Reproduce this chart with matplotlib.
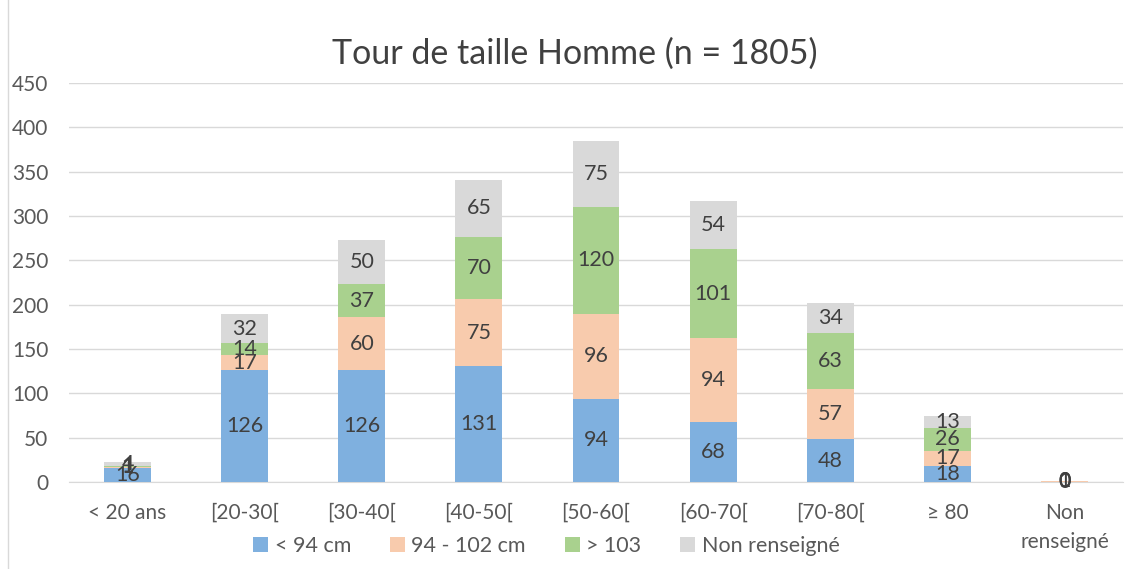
import numpy as np
import matplotlib.pyplot as plt
from matplotlib.patches import Rectangle

plt.rcParams['font.family'] = ['Lato', 'DejaVu Sans']

# Données
categories = ['< 20 ans', '[20-30[', '[30-40[', '[40-50[', '[50-60[', '[60-70[', '[70-80[', '≥ 80', 'Non\nrenseigné']
moins_94 = [16, 126, 126, 131, 94, 68, 48, 18, 0]
entre_94_102 = [1, 17, 60, 75, 96, 94, 57, 17, 1]
plus_103 = [1, 14, 37, 70, 120, 101, 63, 26, 0]
non_renseigne = [4, 32, 50, 65, 75, 54, 34, 13, 0]

series = [
    ('< 94 cm', moins_94, '#7FB0DF'),
    ('94 - 102 cm', entre_94_102, '#F8CBAD'),
    ('> 103', plus_103, '#A9D18E'),
    ('Non renseigné', non_renseigne, '#D9D9D9'),
]

fig = plt.figure(figsize=(11.31, 5.69), dpi=100)
ax = fig.add_axes([0.061, 0.153, 0.932, 0.701])

x = np.arange(len(categories))
bas = np.zeros(len(categories))
for nom, vals, couleur in series:
    vals = np.array(vals, dtype=float)
    ax.bar(x, vals, 0.4, bottom=bas, color=couleur, label=nom, zorder=3)
    for xi, b, v in zip(x, bas, vals):
        ax.text(xi, b + v / 2, str(int(v)), ha='center', va='center',
                fontsize=15.5, color='#404040', zorder=4)
    bas += vals

ax.set_xlim(-0.5, 8.5)
ax.set_ylim(0, 450)
ax.set_yticks(range(0, 451, 50))
ax.yaxis.grid(True, color='#D9D9D9', linewidth=1, zorder=0)
ax.set_xticks(x)
ax.set_xticklabels(categories, linespacing=1.55)
ax.tick_params(axis='both', length=0, labelsize=15, labelcolor='#595959')
ax.tick_params(axis='x', pad=15)
ax.tick_params(axis='y', pad=15)
for s in ['top', 'right', 'left']:
    ax.spines[s].set_visible(False)
ax.spines['bottom'].set_color('#D9D9D9')

fig.text(0.508, 0.905, 'Tour de taille Homme (n = 1805)', ha='center', va='center',
         fontsize=24.5, color='#404040')

fig.legend(loc='center', bbox_to_anchor=(0.483, 0.04), ncol=4, frameon=False,
           fontsize=15.5, handlelength=0.7, handleheight=0.7, columnspacing=1.8,
           handletextpad=0.3, labelcolor='#595959')

fig.patches.append(Rectangle((0.007, -0.01), 1.0, 1.02, transform=fig.transFigure,
                             fill=False, edgecolor='#D9D9D9', linewidth=1))

fig.savefig('out.png', dpi=100)
